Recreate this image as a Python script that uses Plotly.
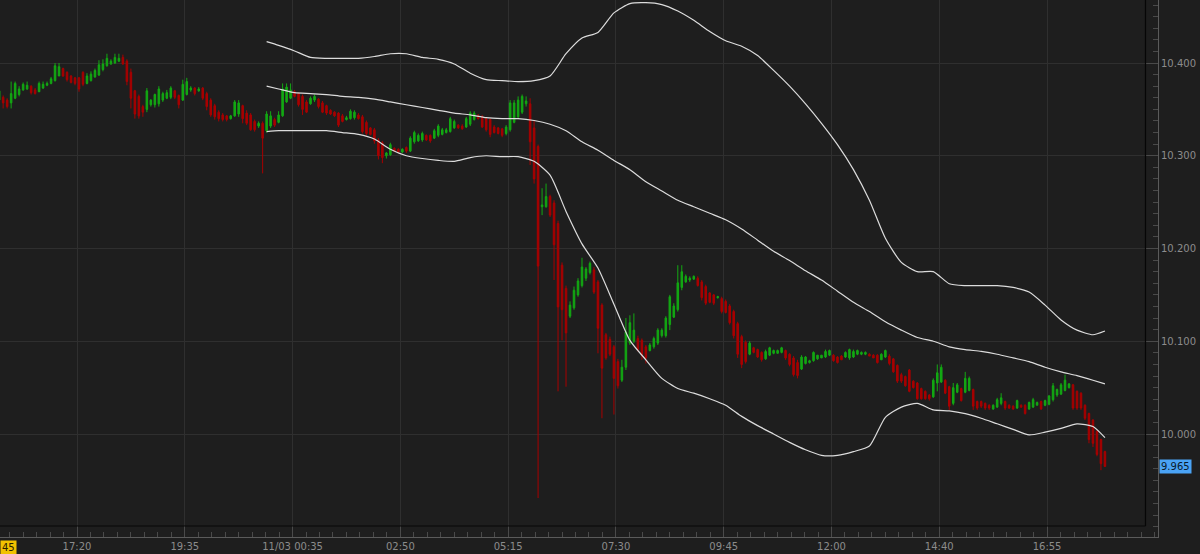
import plotly.graph_objects as go

# ---------------- data ----------------
bar_index = list(range(278))

open_ = [
    10.360, 10.363, 10.360, 10.357, 10.362, 10.366, 10.371, 10.372, 10.375, 10.371,
    10.369, 10.373, 10.376, 10.378, 10.381, 10.386, 10.394, 10.390, 10.386, 10.384,
    10.384, 10.390, 10.378, 10.381, 10.385, 10.387, 10.393, 10.397, 10.399, 10.400,
    10.402, 10.406, 10.402, 10.390, 10.370, 10.364, 10.353, 10.350, 10.355, 10.355,
    10.356, 10.360, 10.362, 10.363, 10.370, 10.365, 10.360, 10.366, 10.371, 10.373,
    10.370, 10.373, 10.367, 10.360, 10.354, 10.347, 10.344, 10.343, 10.340, 10.343,
    10.345, 10.354, 10.346, 10.344, 10.337, 10.332, 10.335, 10.327, 10.332, 10.339,
    10.336, 10.343, 10.358, 10.362, 10.369, 10.367, 10.364, 10.358, 10.356, 10.360,
    10.361, 10.357, 10.354, 10.349, 10.347, 10.346, 10.343, 10.339, 10.340, 10.341,
    10.344, 10.342, 10.336, 10.330, 10.328, 10.317, 10.314, 10.300, 10.301, 10.308,
    10.307, 10.304, 10.309, 10.305, 10.315, 10.316, 10.317, 10.322, 10.322, 10.319,
    10.322, 10.323, 10.325, 10.326, 10.330, 10.333, 10.332, 10.331, 10.334, 10.339,
    10.343, 10.342, 10.340, 10.339, 10.331, 10.330, 10.329, 10.324, 10.328, 10.336,
    10.342, 10.347, 10.356, 10.356, 10.330, 10.310, 10.245, 10.245, 10.256, 10.249,
    10.227, 10.182, 10.157, 10.127, 10.136, 10.150, 10.160, 10.168, 10.174, 10.177,
    10.164, 10.139, 10.107, 10.102, 10.094, 10.078, 10.058, 10.072, 10.098, 10.100,
    10.103, 10.101, 10.094, 10.090, 10.094, 10.098, 10.106, 10.106, 10.118, 10.126,
    10.134, 10.158, 10.164, 10.166, 10.167, 10.168, 10.164, 10.159, 10.152, 10.150,
    10.147, 10.146, 10.143, 10.138, 10.132, 10.119, 10.105, 10.099, 10.086, 10.093,
    10.091, 10.088, 10.081, 10.085, 10.087, 10.087, 10.088, 10.090, 10.086, 10.082,
    10.077, 10.070, 10.076, 10.077, 10.079, 10.081, 10.082, 10.083, 10.085, 10.085,
    10.083, 10.084, 10.083, 10.082, 10.083, 10.086, 10.086, 10.086, 10.086, 10.085,
    10.085, 10.080, 10.083, 10.084, 10.081, 10.074, 10.064, 10.062, 10.069, 10.057,
    10.055, 10.049, 10.046, 10.042, 10.040, 10.055, 10.056, 10.058, 10.051, 10.033,
    10.045, 10.049, 10.045, 10.047, 10.048, 10.035, 10.035, 10.033, 10.031, 10.027,
    10.029, 10.033, 10.035, 10.031, 10.030, 10.028, 10.031, 10.031, 10.027, 10.029,
    10.031, 10.035, 10.031, 10.032, 10.037, 10.042, 10.043, 10.047, 10.050, 10.053,
    10.046, 10.044, 10.031, 10.022, 10.015, 10.003, 9.994, 9.981,
]

high_ = [
    10.372, 10.365, 10.362, 10.380, 10.380, 10.375, 10.379, 10.380, 10.376, 10.373,
    10.380, 10.380, 10.380, 10.385, 10.400, 10.400, 10.395, 10.391, 10.387, 10.385,
    10.385, 10.391, 10.389, 10.391, 10.394, 10.403, 10.404, 10.410, 10.404, 10.410,
    10.410, 10.409, 10.404, 10.394, 10.371, 10.366, 10.355, 10.373, 10.361, 10.367,
    10.375, 10.369, 10.371, 10.375, 10.371, 10.366, 10.382, 10.384, 10.375, 10.374,
    10.374, 10.374, 10.369, 10.362, 10.356, 10.349, 10.346, 10.344, 10.344, 10.360,
    10.360, 10.355, 10.349, 10.346, 10.339, 10.337, 10.337, 10.348, 10.348, 10.341,
    10.348, 10.378, 10.378, 10.378, 10.371, 10.368, 10.366, 10.360, 10.364, 10.366,
    10.362, 10.359, 10.355, 10.350, 10.348, 10.347, 10.345, 10.343, 10.350, 10.349,
    10.346, 10.344, 10.338, 10.331, 10.330, 10.319, 10.316, 10.304, 10.314, 10.309,
    10.308, 10.308, 10.310, 10.321, 10.327, 10.324, 10.326, 10.323, 10.323, 10.329,
    10.334, 10.330, 10.330, 10.342, 10.339, 10.334, 10.334, 10.342, 10.348, 10.348,
    10.345, 10.344, 10.341, 10.340, 10.333, 10.331, 10.330, 10.333, 10.360, 10.360,
    10.364, 10.366, 10.364, 10.362, 10.338, 10.312, 10.265, 10.270, 10.258, 10.252,
    10.230, 10.185, 10.160, 10.143, 10.159, 10.168, 10.190, 10.180, 10.186, 10.180,
    10.166, 10.141, 10.109, 10.105, 10.096, 10.081, 10.080, 10.125, 10.128, 10.130,
    10.106, 10.103, 10.096, 10.098, 10.105, 10.114, 10.114, 10.127, 10.150, 10.141,
    10.182, 10.182, 10.172, 10.170, 10.171, 10.170, 10.166, 10.161, 10.153, 10.151,
    10.149, 10.148, 10.145, 10.140, 10.134, 10.121, 10.107, 10.101, 10.100, 10.094,
    10.092, 10.089, 10.091, 10.094, 10.091, 10.091, 10.094, 10.091, 10.087, 10.084,
    10.080, 10.085, 10.084, 10.080, 10.089, 10.085, 10.085, 10.091, 10.091, 10.086,
    10.084, 10.085, 10.089, 10.092, 10.091, 10.091, 10.089, 10.089, 10.087, 10.086,
    10.086, 10.087, 10.091, 10.086, 10.082, 10.075, 10.066, 10.063, 10.070, 10.058,
    10.056, 10.050, 10.047, 10.043, 10.060, 10.075, 10.075, 10.059, 10.052, 10.055,
    10.055, 10.050, 10.067, 10.062, 10.049, 10.036, 10.036, 10.034, 10.032, 10.032,
    10.039, 10.044, 10.036, 10.032, 10.031, 10.037, 10.032, 10.032, 10.035, 10.039,
    10.035, 10.036, 10.037, 10.042, 10.055, 10.049, 10.055, 10.064, 10.055, 10.054,
    10.047, 10.045, 10.032, 10.023, 10.016, 10.004, 9.995, 9.982,
]

low_ = [
    10.358, 10.351, 10.351, 10.351, 10.361, 10.364, 10.370, 10.371, 10.366, 10.366,
    10.369, 10.372, 10.375, 10.377, 10.380, 10.386, 10.385, 10.380, 10.378, 10.376,
    10.369, 10.375, 10.377, 10.380, 10.384, 10.386, 10.391, 10.396, 10.398, 10.399,
    10.401, 10.398, 10.376, 10.351, 10.340, 10.340, 10.342, 10.347, 10.353, 10.352,
    10.353, 10.358, 10.361, 10.361, 10.361, 10.351, 10.359, 10.365, 10.369, 10.365,
    10.369, 10.360, 10.349, 10.342, 10.339, 10.337, 10.337, 10.337, 10.339, 10.342,
    10.342, 10.335, 10.333, 10.327, 10.326, 10.330, 10.281, 10.325, 10.330, 10.331,
    10.335, 10.342, 10.357, 10.361, 10.363, 10.353, 10.344, 10.346, 10.355, 10.358,
    10.351, 10.346, 10.344, 10.344, 10.342, 10.331, 10.336, 10.338, 10.339, 10.339,
    10.339, 10.324, 10.322, 10.322, 10.313, 10.296, 10.292, 10.297, 10.300, 10.304,
    10.303, 10.303, 10.303, 10.304, 10.313, 10.315, 10.315, 10.316, 10.314, 10.318,
    10.320, 10.322, 10.324, 10.325, 10.329, 10.329, 10.328, 10.330, 10.332, 10.338,
    10.339, 10.330, 10.326, 10.320, 10.324, 10.323, 10.320, 10.322, 10.326, 10.335,
    10.340, 10.345, 10.353, 10.290, 10.270, 9.931, 10.236, 10.244, 10.234, 10.166,
    10.046, 10.101, 10.051, 10.125, 10.134, 10.148, 10.158, 10.165, 10.172, 10.151,
    10.087, 10.017, 10.080, 10.084, 10.021, 10.049, 10.056, 10.069, 10.096, 10.098,
    10.089, 10.080, 10.076, 10.089, 10.092, 10.096, 10.104, 10.104, 10.112, 10.125,
    10.132, 10.155, 10.163, 10.164, 10.166, 10.159, 10.144, 10.139, 10.141, 10.139,
    10.146, 10.130, 10.130, 10.118, 10.103, 10.082, 10.071, 10.076, 10.085, 10.087,
    10.082, 10.078, 10.080, 10.084, 10.086, 10.087, 10.087, 10.080, 10.073, 10.062,
    10.060, 10.069, 10.075, 10.076, 10.078, 10.080, 10.082, 10.082, 10.084, 10.078,
    10.076, 10.080, 10.082, 10.080, 10.082, 10.085, 10.085, 10.085, 10.084, 10.082,
    10.076, 10.080, 10.082, 10.074, 10.066, 10.055, 10.055, 10.051, 10.045, 10.049,
    10.037, 10.037, 10.037, 10.036, 10.039, 10.046, 10.055, 10.043, 10.026, 10.031,
    10.044, 10.035, 10.044, 10.046, 10.026, 10.026, 10.028, 10.026, 10.026, 10.026,
    10.028, 10.031, 10.026, 10.027, 10.026, 10.027, 10.028, 10.021, 10.026, 10.028,
    10.031, 10.026, 10.030, 10.031, 10.035, 10.040, 10.042, 10.046, 10.049, 10.026,
    10.026, 10.026, 10.015, 9.990, 9.986, 9.976, 9.961, 9.965,
]

close_ = [
    10.370, 10.357, 10.353, 10.367, 10.378, 10.372, 10.377, 10.376, 10.368, 10.367,
    10.378, 10.377, 10.378, 10.383, 10.397, 10.396, 10.386, 10.382, 10.379, 10.378,
    10.372, 10.377, 10.386, 10.388, 10.392, 10.398, 10.399, 10.405, 10.402, 10.406,
    10.405, 10.399, 10.380, 10.362, 10.345, 10.343, 10.347, 10.370, 10.360, 10.366,
    10.372, 10.367, 10.368, 10.373, 10.363, 10.355, 10.377, 10.380, 10.373, 10.367,
    10.372, 10.362, 10.353, 10.344, 10.342, 10.340, 10.339, 10.339, 10.343, 10.358,
    10.357, 10.340, 10.335, 10.328, 10.328, 10.335, 10.319, 10.345, 10.343, 10.333,
    10.344, 10.372, 10.374, 10.371, 10.364, 10.355, 10.350, 10.347, 10.362, 10.364,
    10.353, 10.347, 10.346, 10.345, 10.343, 10.333, 10.337, 10.341, 10.348, 10.347,
    10.340, 10.326, 10.324, 10.323, 10.316, 10.300, 10.298, 10.303, 10.312, 10.305,
    10.304, 10.307, 10.305, 10.319, 10.325, 10.322, 10.324, 10.317, 10.316, 10.327,
    10.332, 10.328, 10.328, 10.340, 10.337, 10.330, 10.329, 10.340, 10.346, 10.346,
    10.340, 10.331, 10.328, 10.323, 10.325, 10.324, 10.322, 10.331, 10.357, 10.357,
    10.360, 10.364, 10.359, 10.315, 10.275, 10.181, 10.247, 10.256, 10.236, 10.204,
    10.137, 10.134, 10.109, 10.139, 10.155, 10.165, 10.180, 10.178, 10.184, 10.153,
    10.114, 10.071, 10.082, 10.086, 10.060, 10.052, 10.072, 10.110, 10.120, 10.112,
    10.091, 10.085, 10.082, 10.096, 10.103, 10.112, 10.112, 10.125, 10.148, 10.138,
    10.163, 10.175, 10.170, 10.168, 10.170, 10.160, 10.147, 10.141, 10.142, 10.141,
    10.148, 10.132, 10.131, 10.120, 10.106, 10.086, 10.075, 10.078, 10.098, 10.088,
    10.083, 10.080, 10.089, 10.093, 10.090, 10.090, 10.093, 10.082, 10.075, 10.064,
    10.063, 10.083, 10.083, 10.079, 10.088, 10.085, 10.085, 10.089, 10.090, 10.079,
    10.077, 10.080, 10.088, 10.091, 10.089, 10.090, 10.088, 10.088, 10.084, 10.082,
    10.077, 10.086, 10.090, 10.076, 10.067, 10.057, 10.057, 10.052, 10.046, 10.050,
    10.038, 10.038, 10.038, 10.038, 10.058, 10.066, 10.072, 10.044, 10.030, 10.050,
    10.053, 10.036, 10.060, 10.060, 10.030, 10.028, 10.030, 10.028, 10.028, 10.031,
    10.037, 10.039, 10.028, 10.028, 10.027, 10.036, 10.029, 10.022, 10.034, 10.037,
    10.034, 10.027, 10.036, 10.041, 10.052, 10.048, 10.053, 10.058, 10.054, 10.028,
    10.028, 10.028, 10.017, 9.994, 9.990, 9.978, 9.968, 9.965,
]

# Bollinger band readings (bar index, upper / middle / lower)
band_x = [67, 70, 74, 78, 82, 86, 90, 94, 98, 102, 106, 110, 114, 118, 122, 126,
          130, 134, 138, 142, 146, 150, 154, 158, 162, 166, 170, 174, 178, 182,
          186, 190, 194, 198, 202, 206, 210, 214, 218, 222, 226, 230, 234, 238,
          242, 246, 250, 254, 258, 262, 266, 270, 274, 277]
band_upper = [10.423, 10.419, 10.413, 10.406, 10.405, 10.405, 10.405, 10.407, 10.410,
              10.410, 10.406, 10.404, 10.399, 10.389, 10.382, 10.381, 10.380, 10.381,
              10.386, 10.410, 10.427, 10.433, 10.454, 10.464, 10.465, 10.463, 10.456,
              10.446, 10.434, 10.424, 10.418, 10.408, 10.392, 10.375, 10.356, 10.335,
              10.312, 10.285, 10.252, 10.211, 10.185, 10.175, 10.175, 10.162, 10.160,
              10.160, 10.160, 10.158, 10.153, 10.139, 10.123, 10.112, 10.107, 10.111]
band_middle = [10.375, 10.372, 10.368, 10.367, 10.366, 10.364, 10.363, 10.361, 10.358,
               10.355, 10.352, 10.349, 10.346, 10.344, 10.341, 10.340, 10.340, 10.338,
               10.334, 10.327, 10.315, 10.306, 10.295, 10.285, 10.272, 10.262, 10.252,
               10.245, 10.238, 10.231, 10.221, 10.209, 10.197, 10.187, 10.176, 10.166,
               10.154, 10.142, 10.132, 10.121, 10.112, 10.104, 10.100, 10.094, 10.091,
               10.089, 10.086, 10.082, 10.078, 10.072, 10.067, 10.063, 10.058, 10.054]
band_lower = [10.326, 10.327, 10.327, 10.327, 10.327, 10.325, 10.323, 10.318, 10.307,
              10.300, 10.297, 10.295, 10.294, 10.298, 10.300, 10.299, 10.299, 10.294,
              10.279, 10.240, 10.205, 10.179, 10.140, 10.101, 10.080, 10.060, 10.049,
              10.044, 10.038, 10.031, 10.019, 10.009, 10.000, 9.991, 9.983, 9.977,
              9.977, 9.981, 9.987, 10.018, 10.029, 10.033, 10.026, 10.025, 10.022,
              10.017, 10.011, 10.005, 9.999, 10.002, 10.006, 10.011, 10.008, 9.996]

x_tick_pos = [19.5, 46.5, 73.5, 100.5, 127.5, 154.5, 181.5, 208.5, 235.5, 262.5]
x_tick_text = ["17:20", "19:35", "11/03 00:35", "02:50", "05:15", "07:30",
               "09:45", "12:00", "14:40", "16:55"]
y_tick_vals = [10.0, 10.1, 10.2, 10.3, 10.4]
y_tick_text = ["10.000", "10.100", "10.200", "10.300", "10.400"]
last_price = 9.965
last_price_text = "9.965"
left_label_text = "45"

assert len(open_) == len(high_) == len(low_) == len(close_) == len(bar_index)
assert len(band_x) == len(band_upper) == len(band_middle) == len(band_lower)

# ---------------- style ----------------
BG = "#1e1e1e"
GRID = "#2f2f2f"
AXIS = "#5a5a5a"
TXT = "#8c8c8c"
UP = "#13a813"
DOWN = "#a80000"
BAND = "#dcdcdc"
FONT = "DejaVu Sans"

W, H = 1200, 554
AX_X = 1158.0   # vertical axis line (px from left)
AX_Y = 537.0    # horizontal axis line (px from top)
BORDER_X = 1145.5
BORDER_Y = 526.0

fig = go.Figure()
fig.add_trace(go.Candlestick(
    x=bar_index, open=open_, high=high_, low=low_, close=close_,
    increasing=dict(line=dict(color=UP, width=1), fillcolor=UP),
    decreasing=dict(line=dict(color=DOWN, width=1), fillcolor=DOWN),
    whiskerwidth=0, hoverinfo="skip", showlegend=False,
))
for band in (band_upper, band_middle, band_lower):
    fig.add_trace(go.Scatter(
        x=band_x, y=band, mode="lines",
        line=dict(color=BAND, width=1.2, shape="spline", smoothing=0.6),
        hoverinfo="skip", showlegend=False,
    ))

# axis ranges chosen so that bars are ~4px apart
px_per_bar = 3.992
x_off = -0.84
x_range = [(0 - x_off) / px_per_bar, (AX_X - x_off) / px_per_bar]
px_per_unit = 927.5
y_top = 10 + 434 / px_per_unit
y_bot = 10 + (434 - AX_Y) / px_per_unit

fig.update_layout(
    width=W, height=H, autosize=False,
    margin=dict(l=0, r=0, t=0, b=0),
    paper_bgcolor=BG, plot_bgcolor=BG,
    showlegend=False, boxgap=0.45,
    font=dict(family=FONT, size=10, color=TXT),
    xaxis=dict(
        domain=[0, AX_X / W], range=x_range,
        tickmode="array", tickvals=x_tick_pos, ticktext=x_tick_text,
        showgrid=True, gridcolor=GRID, gridwidth=1, zeroline=False,
        ticks="inside", ticklen=11, tickcolor="#4a4a4a", tickwidth=1,
        showline=True, linecolor=AXIS, linewidth=1,
        tickfont=dict(family=FONT, size=10, color=TXT),
        rangeslider=dict(visible=False), fixedrange=True,
        minor=dict(tickmode="linear", tick0=19.5, dtick=3.375, ticks="inside",
                   ticklen=5, tickcolor="#4a4a4a", showgrid=False),
    ),
    yaxis=dict(
        domain=[1 - AX_Y / H, 1], range=[y_bot, y_top], side="right",
        tickmode="array", tickvals=y_tick_vals, ticktext=y_tick_text,
        showgrid=True, gridcolor=GRID, gridwidth=1, zeroline=False,
        ticks="inside", ticklen=12, tickcolor="#4a4a4a", tickwidth=1,
        showline=True, linecolor=AXIS, linewidth=1,
        tickfont=dict(family=FONT, size=10, color=TXT),
        fixedrange=True,
        minor=dict(tickmode="linear", tick0=10.0, dtick=0.0125, ticks="inside",
                   ticklen=5, tickcolor="#4a4a4a", showgrid=False),
    ),
    shapes=[
        dict(type="line", xref="paper", yref="paper",
             x0=0, x1=BORDER_X / W, y0=1 - BORDER_Y / H, y1=1 - BORDER_Y / H,
             line=dict(color="#060606", width=1.2)),
        dict(type="line", xref="paper", yref="paper",
             x0=BORDER_X / W, x1=BORDER_X / W, y0=1 - BORDER_Y / H, y1=1,
             line=dict(color="#060606", width=1.2)),
    ],
    annotations=[
        dict(xref="paper", yref="y", x=(AX_X + 1) / W, y=last_price,
             xanchor="left", yanchor="middle", text=last_price_text,
             showarrow=False, bgcolor="#4aa3f5",
             font=dict(family=FONT, size=10, color="#0b1a2a"), borderpad=1),
        dict(xref="paper", yref="paper", x=0, y=(H - 547.5) / H,
             xanchor="left", yanchor="middle", text=left_label_text,
             showarrow=False, bgcolor="#f2c200",
             font=dict(family=FONT, size=10, color="#2a2000"), borderpad=1),
    ],
)

fig.write_html("out.html", config={"displayModeBar": False},
               post_script="document.body.style.margin='0';document.body.style.overflow='hidden';")
